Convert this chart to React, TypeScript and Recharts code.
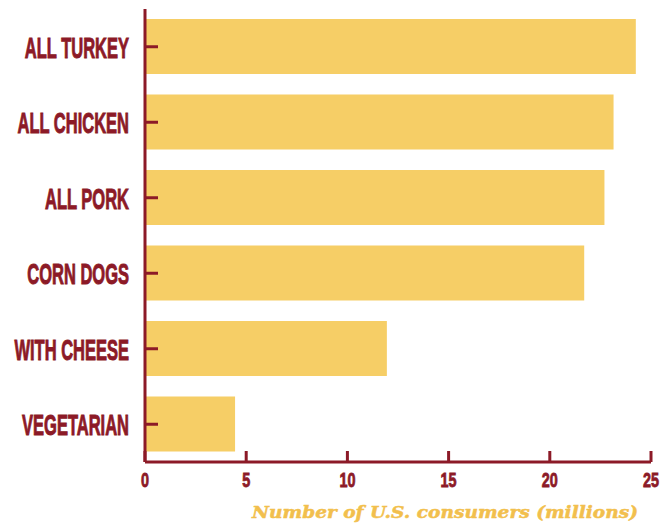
import React from 'react';
import { BarChart, Bar, XAxis, YAxis, Label } from 'recharts';

const categories = ['ALL TURKEY', 'ALL CHICKEN', 'ALL PORK', 'CORN DOGS', 'WITH CHEESE', 'VEGETARIAN'];
const consumers = [24.25, 23.15, 22.7, 21.7, 11.95, 4.45];
const xTicks = [0, 5, 10, 15, 20, 25];

const data = categories.map((name, i) => ({ name, value: consumers[i] }));

const RED = '#8c1a27';
const YELLOW = '#f6ce66';

const YTick = ({ x, y, payload }: any) => (
  <g transform={`translate(${x},${y})`}>
    <text
      transform="scale(0.55,1)"
      textAnchor="end"
      dy={10.8}
      fill={RED}
      stroke={RED}
      strokeWidth={1}
      fontFamily="'Liberation Sans', Arial, sans-serif"
      fontWeight="bold"
      fontSize={30}
    >
      {payload.value}
    </text>
  </g>
);

const XTick = ({ x, y, payload }: any) => (
  <g transform={`translate(${x},${y})`}>
    <text
      transform="scale(0.72,1)"
      textAnchor="middle"
      fill={RED}
      stroke={RED}
      strokeWidth={0.8}
      fontFamily="'Liberation Sans', Arial, sans-serif"
      fontWeight="bold"
      fontSize={20}
    >
      {payload.value}
    </text>
  </g>
);

const AxisTitle = () => (
  <text
    x={638}
    y={518}
    textAnchor="end"
    fill="#f2bf4d"
    stroke="#f2bf4d"
    strokeWidth={0.5}
    fontFamily="'DejaVu Serif', serif"
    fontStyle="italic"
    fontWeight="bold"
    fontSize={17}
    textLength={386}
    lengthAdjust="spacingAndGlyphs"
  >
    Number of U.S. consumers (millions)
  </text>
);

export default function App() {
  return (
    <div>
      <style>{`body { margin: 0; }`}</style>
      <BarChart
        width={668}
        height={523}
        data={data}
        layout="vertical"
        margin={{ top: 9, right: 17, bottom: 0, left: 0 }}
        barSize={55}
      >
        <XAxis
          type="number"
          domain={[0, 25]}
          ticks={xTicks}
          height={61}
          axisLine={{ stroke: RED, strokeWidth: 3 }}
          tickLine={{ stroke: RED, strokeWidth: 3 }}
          tickSize={-11}
          tickMargin={36}
          tick={<XTick />}
          interval={0}
        >
          <Label content={<AxisTitle />} />
        </XAxis>
        <YAxis
          type="category"
          dataKey="name"
          width={145}
          axisLine={{ stroke: RED, strokeWidth: 3 }}
          tickLine={{ stroke: RED, strokeWidth: 3 }}
          tickSize={-13}
          tickMargin={29}
          tick={<YTick />}
          interval={0}
        />
        <Bar dataKey="value" fill={YELLOW} isAnimationActive={false} />
      </BarChart>
    </div>
  );
}
